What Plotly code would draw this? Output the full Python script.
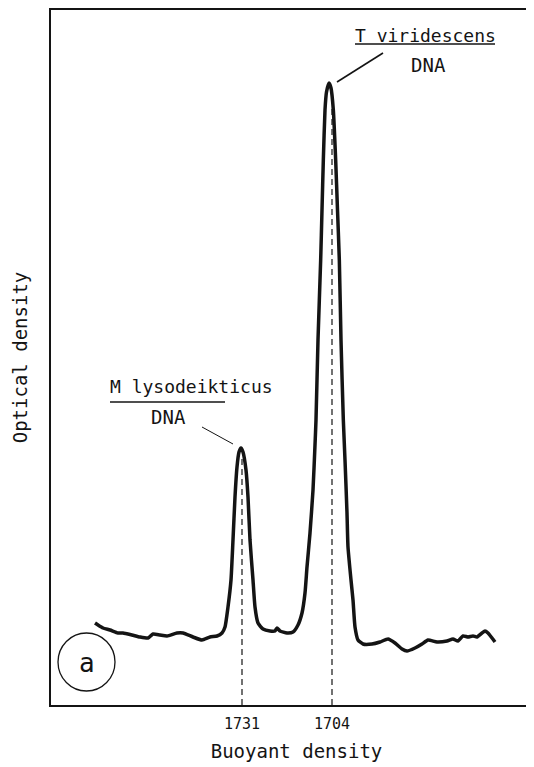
import plotly.graph_objects as go

# Buoyant density (x1000, g/cm3) and optical density (arbitrary units)
density = [1775.1, 1774.2, 1772.7, 1770.6, 1768.2, 1766.7, 1764.0, 1761.6, 1759.2, 1757.7,
           1755.6, 1753.5, 1750.5, 1748.7, 1745.7, 1743.0, 1740.6, 1738.5, 1737.0, 1736.1,
           1735.2, 1734.3, 1733.7, 1733.1, 1732.5, 1731.9, 1731.3, 1730.7, 1729.8, 1729.2,
           1728.6, 1727.7, 1727.1, 1726.2, 1724.7, 1722.6, 1721.1, 1720.5, 1719.6, 1717.5,
           1715.7, 1714.2, 1713.0, 1712.1, 1711.5, 1710.6, 1709.7, 1709.1, 1708.8, 1708.2,
           1707.4, 1707.0, 1706.6, 1706.1, 1705.65, 1704.9, 1704.3, 1703.6, 1702.9, 1702.35,
           1701.8, 1701.3, 1700.6, 1700.1, 1699.5, 1699.2, 1698.3, 1697.7, 1697.1, 1696.2,
           1694.7, 1692.0, 1689.6, 1687.2, 1685.1, 1683.0, 1681.5, 1679.1, 1677.0, 1675.2,
           1672.5, 1669.5, 1667.7, 1666.2, 1664.7, 1663.2, 1661.7, 1660.5, 1659.0, 1658.1,
           1657.2, 1656.0, 1655.1]
optical = [0.82, 0.80, 0.77, 0.75, 0.72, 0.72, 0.70, 0.68, 0.67, 0.71,
           0.70, 0.69, 0.72, 0.72, 0.68, 0.65, 0.68, 0.69, 0.72, 0.78,
           0.98, 1.25, 1.65, 2.08, 2.38, 2.53, 2.57, 2.53, 2.35, 2.08,
           1.65, 1.25, 0.98, 0.82, 0.76, 0.74, 0.74, 0.77, 0.74, 0.72,
           0.73, 0.80, 0.92, 1.12, 1.38, 1.72, 2.15, 2.60, 2.85, 3.65,
           4.45, 4.95, 5.45, 5.95, 6.13, 6.22, 6.17, 5.95, 5.45, 4.95,
           4.45, 3.65, 2.85, 2.45, 1.92, 1.58, 1.25, 1.05, 0.78, 0.65,
           0.61, 0.61, 0.63, 0.66, 0.62, 0.56, 0.54, 0.57, 0.61, 0.65,
           0.63, 0.64, 0.66, 0.64, 0.69, 0.68, 0.69, 0.68, 0.72, 0.74,
           0.72, 0.67, 0.63]

peak_positions = [1731, 1704]
peak_heights = [2.50, 6.00]
tick_vals = [1731, 1704]
tick_text = ["1731", "1704"]

INK = "#141414"
FONT = "DejaVu Sans Mono"

fig = go.Figure()

for px_, ph in zip(peak_positions, peak_heights):
    fig.add_trace(go.Scatter(x=[px_, px_], y=[0, ph], mode="lines",
                             line=dict(color=INK, width=1.2, dash="6px,4px"),
                             hoverinfo="skip", showlegend=False))

fig.add_trace(go.Scatter(x=density, y=optical, mode="lines",
                         line=dict(color=INK, width=3.5, shape="spline", smoothing=0.5),
                         showlegend=False))

# leader lines and underlines
fig.add_shape(type="line", xref="x", yref="y", x0=1743.0, y0=2.78, x1=1733.7, y1=2.61,
              line=dict(color=INK, width=1))
fig.add_shape(type="line", xref="x", yref="y", x0=1702.5, y0=6.23, x1=1688.7, y1=6.52,
              line=dict(color=INK, width=1.6))
fig.add_shape(type="line", xref="x", yref="y", x0=1697.1, y0=6.61, x1=1655.1, y1=6.61,
              line=dict(color=INK, width=1.5))
fig.add_shape(type="line", xref="x", yref="y", x0=1770.6, y0=3.03, x1=1736.1, y1=3.03,
              line=dict(color=INK, width=1.5))
# circle around panel letter
fig.add_shape(type="circle", xref="x", yref="y", x0=1786.2, y0=0.14, x1=1769.1, y1=0.72,
              line=dict(color=INK, width=1.3))

ann = [
    dict(x=1676.1, y=6.695, text="T viridescens", size=18),
    dict(x=1675.2, y=6.405, text="DNA", size=19),
    dict(x=1746.3, y=3.185, text="M lysodeikticus", size=18),
    dict(x=1753.2, y=2.885, text="DNA", size=19),
    dict(x=1777.5, y=0.42, text="a", size=26),
]
for a in ann:
    fig.add_annotation(x=a["x"], y=a["y"], xref="x", yref="y", text=a["text"],
                       showarrow=False, xanchor="center", yanchor="middle",
                       font=dict(family=FONT, size=a["size"], color=INK))

# the page body adds an 8px offset, so margins are reduced to compensate;
# the plot runs past the right edge of the window like the original frame
fig.update_layout(
    width=534, height=767,
    margin=dict(l=43, r=0, t=2, b=70),
    paper_bgcolor="white", plot_bgcolor="white",
    showlegend=False,
    xaxis=dict(range=[1788.3, 1641.0], showgrid=False, zeroline=False,
               showline=True, mirror=True, linecolor=INK, linewidth=1.5,
               tickmode="array", tickvals=tick_vals, ticktext=tick_text,
               ticks="", ticklabelstandoff=4,
               tickfont=dict(family=FONT, size=15, color=INK),
               title=dict(text="Buoyant density", standoff=13,
                          font=dict(family=FONT, size=19, color=INK))),
    yaxis=dict(range=[0, 6.95], showgrid=False, zeroline=False,
               showline=True, linecolor=INK, linewidth=1.5,
               showticklabels=False, ticks="",
               title=dict(text="Optical density", standoff=17,
                          font=dict(family=FONT, size=19, color=INK))),
)

fig.write_html("out.html")
